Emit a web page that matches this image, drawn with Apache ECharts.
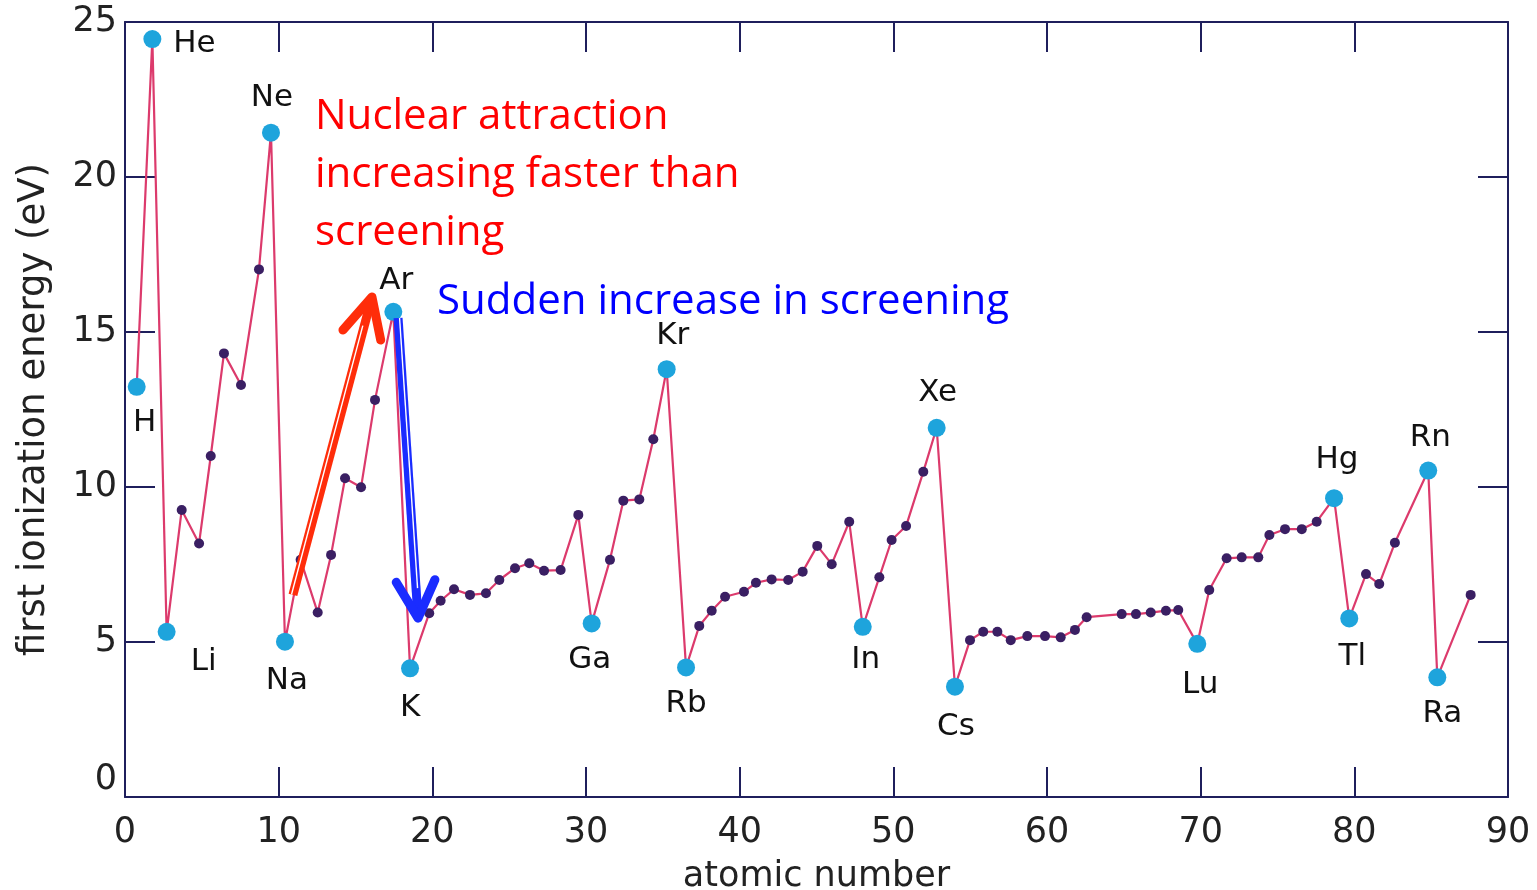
<!DOCTYPE html>
<html><head><meta charset="utf-8">
<script src="https://cdn.jsdelivr.net/npm/echarts@6/dist/echarts.min.js"></script>
<style>html,body{margin:0;padding:0;background:#fff}#c{width:1537px;height:890px}</style>
</head><body><div id="c"></div>
<script>
// ---- data ----
const elements = ['H','He','Li','Be','B','C','N','O','F','Ne',
  'Na','Mg','Al','Si','P','S','Cl','Ar',
  'K','Ca','Sc','Ti','V','Cr','Mn','Fe','Co','Ni','Cu','Zn','Ga','Ge','As','Se','Br','Kr',
  'Rb','Sr','Y','Zr','Nb','Mo','Tc','Ru','Rh','Pd','Ag','Cd','In','Sn','Sb','Te','I','Xe',
  'Cs','Ba','La','Ce','Pr','Nd','Pm','Sm','Eu','Gd',
  'Dy','Ho','Er','Tm','Yb',
  'Lu','Hf','Ta','W','Re','Os','Ir','Pt','Au','Hg',
  'Tl','Pb','Bi','Po',
  'Rn','Ra','Ac'];
const atomicX = [0.76,1.78,2.71,3.69,4.82,5.58,6.44,7.55,8.72,9.50,
  10.41,11.43,12.54,13.41,14.32,15.36,16.27,17.46,
  18.55,19.80,20.54,21.41,22.45,23.49,24.36,25.38,26.31,27.27,28.35,29.50,30.37,31.56,32.43,33.47,34.38,35.25,
  36.51,37.37,38.18,39.05,40.28,41.06,42.08,43.16,44.10,45.05,45.99,47.13,48.01,49.09,49.89,50.83,51.95,52.82,
  54.01,54.99,55.85,56.77,57.64,58.72,59.87,60.89,61.82,62.58,
  64.86,65.79,66.75,67.74,68.54,
  69.78,70.56,71.69,72.67,73.75,74.47,75.49,76.58,77.55,78.68,
  79.67,80.76,81.62,82.64,
  84.81,85.40,87.57];
const energy = [13.23,24.45,5.33,9.26,8.18,11.0,14.31,13.29,17.02,21.43,
  5.01,7.65,5.95,7.81,10.28,9.99,12.81,15.65,
  4.15,5.93,6.33,6.70,6.52,6.57,7.0,7.38,7.54,7.30,7.32,9.10,5.60,7.65,9.56,9.60,11.54,13.80,
  4.18,5.52,6.01,6.46,6.62,6.91,7.02,7.0,7.27,8.10,7.51,8.88,5.49,7.09,8.29,8.74,10.49,11.91,
  3.56,5.06,5.33,5.33,5.06,5.19,5.19,5.15,5.39,5.80,
  5.90,5.90,5.95,6.01,6.03,
  4.94,6.68,7.70,7.73,7.73,8.45,8.64,8.64,8.88,9.64,
  5.76,7.19,6.87,8.20,
  10.53,3.86,6.52];
const marked = ['H','He','Li','Ne','Na','Ar','K','Ga','Kr','Rb','In','Xe','Cs','Lu','Hg','Tl','Rn','Ra'];
const xRange = [0, 90, 10];
const yRange = [0, 25, 5];
const xName = 'atomic number';
const yName = 'first ionization energy (eV)';
const redNote = ['Nuclear attraction', 'increasing faster than', 'screening'];
const blueNote = 'Sudden increase in screening';
// annotation arrows in data units [from, to]
const redArrow = [[10.93, 6.52], [16.07, 16.13]];
const blueArrow = [[17.77, 15.45], [19.07, 5.77]];

// ---- style ----
const labelOffset = {H:[8,36],He:[42,5],Li:[37,30],Ne:[1,-35],Na:[2,39],Ar:[3,-31],K:[0,40],
  Ga:[-2,37],Kr:[6,-33],Rb:[0,37],In:[3,33],Xe:[1,-35],Cs:[1,40],Lu:[3,41],Hg:[3,-38],
  Tl:[3,39],Rn:[2,-33],Ra:[5,37]};
const AX = '#1f1f5c';
const FONT = 'DejaVu Sans';

const chart = echarts.init(document.getElementById('c'), null, {renderer:'canvas'});
const axisCommon = {
  type:'value', splitLine:{show:false},
  axisLine:{show:true, onZero:false, lineStyle:{color:AX, width:2}},
  axisTick:{show:true, inside:true, length:30, lineStyle:{color:AX, width:2}},
};
const option = {
  animation:false,
  backgroundColor:'#fff',
  grid:{left:125, right:29, top:22, bottom:93, containLabel:false, outerBoundsMode:'none'},
  xAxis:[
    Object.assign({}, axisCommon, {min:xRange[0], max:xRange[1], interval:xRange[2], position:'bottom',
      name:xName, nameLocation:'middle', nameGap:62,
      nameTextStyle:{fontFamily:FONT, fontSize:35, color:'#222'},
      axisLabel:{margin:18, fontFamily:FONT, fontSize:35, color:'#222'}}),
    Object.assign({}, axisCommon, {min:xRange[0], max:xRange[1], interval:xRange[2], position:'top',
      axisLabel:{show:false}})
  ],
  yAxis:[
    Object.assign({}, axisCommon, {min:yRange[0], max:yRange[1], interval:yRange[2], position:'left',
      name:yName, nameLocation:'middle', nameGap:72,
      nameTextStyle:{fontFamily:FONT, fontSize:37, color:'#222'},
      axisLabel:{margin:8, fontFamily:FONT, fontSize:35, color:'#222',
        formatter:v => v === 0 ? '{z|0}' : String(v),
        rich:{z:{fontFamily:FONT, fontSize:35, color:'#222', padding:[0,0,34,0]}}}}),
    Object.assign({}, axisCommon, {min:yRange[0], max:yRange[1], interval:yRange[2], position:'right',
      axisLabel:{show:false}})
  ],
  series:[
    {type:'line', data:atomicX.map((x,i)=>[x, energy[i]]),
      symbol:'circle', symbolSize:10, showAllSymbol:true,
      lineStyle:{color:'#dc3a6c', width:2.2},
      itemStyle:{color:'#3a1f63'}, z:2},
    {type:'scatter', symbolSize:18, itemStyle:{color:'#1ea4dc', opacity:1}, z:3,
      data:marked.map(n => { const i = elements.indexOf(n);
        return {name:n, value:[atomicX[i], energy[i]], label:{offset:labelOffset[n]}}; }),
      label:{show:true, position:'inside', formatter:p=>p.name, fontFamily:FONT, fontSize:31, color:'#111'}}
  ]
};
chart.setOption(option);

function arrow(a, color, len, ang) {
  const p0 = chart.convertToPixel({xAxisIndex:0, yAxisIndex:0}, a[0]);
  const p1 = chart.convertToPixel({xAxisIndex:0, yAxisIndex:0}, a[1]);
  const dx = p0[0]-p1[0], dy = p0[1]-p1[1];
  const L = Math.hypot(dx, dy), ux = dx/L, uy = dy/L;
  const rot = (t) => [p1[0] + len*(ux*Math.cos(t) - uy*Math.sin(t)), p1[1] + len*(ux*Math.sin(t) + uy*Math.cos(t))];
  const b1 = rot(ang), b2 = rot(-ang);
  const nx = -uy, ny = ux;
  return [
    {type:'line', z:10, shape:{x1:p0[0], y1:p0[1], x2:p1[0]+ux*4, y2:p1[1]+uy*4}, style:{stroke:color, lineWidth:9}},
    {type:'line', z:11, shape:{x1:p0[0]+nx*1.5, y1:p0[1]+ny*1.5, x2:p1[0]+ux*30+nx*1.5, y2:p1[1]+uy*30+ny*1.5}, style:{stroke:'#ffffff', lineWidth:1.4}},
    {type:'polyline', z:12, shape:{points:[b1, p1, b2]}, style:{stroke:color, lineWidth:9, fill:null, lineCap:'round', lineJoin:'round'}}
  ];
}

const noteFont = '42px "Open Sans"';
const graphics = [].concat(
  arrow(redArrow, '#ff2d0a', 44, 0.46),
  arrow(blueArrow, '#1a2cff', 42, 0.48),
  redNote.map((t, k) => ({type:'text', z:20, x:315, y:117 + k*58,
    style:{text:t, font:noteFont, fill:'#ff0000', verticalAlign:'middle', align:'left'}})),
  [{type:'text', z:20, x:437, y:302, style:{text:blueNote, font:noteFont, fill:'#0000ff', verticalAlign:'middle', align:'left'}}]
);
chart.setOption({graphic:graphics});
</script>
</body></html>
